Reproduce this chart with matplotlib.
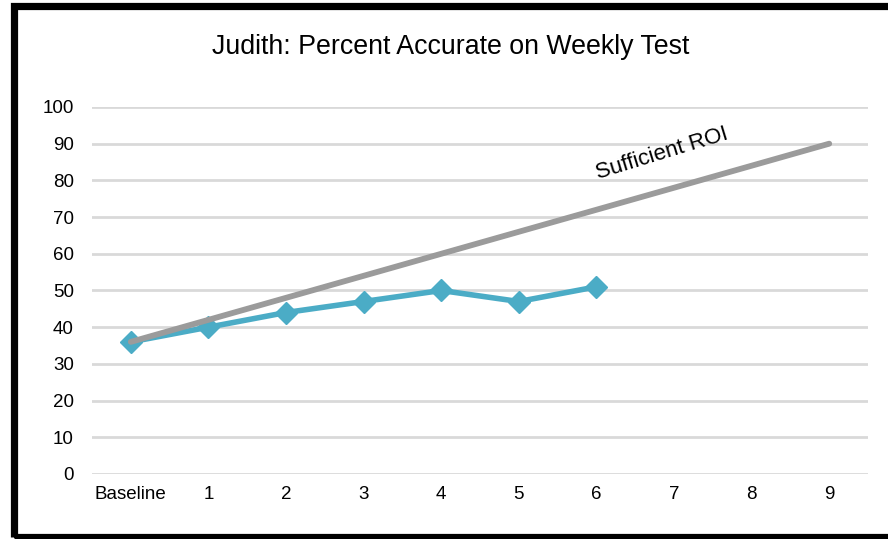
import matplotlib.pyplot as plt
from matplotlib.patches import Rectangle

plt.rcParams["font.family"] = ["Liberation Sans", "DejaVu Sans"]

categories = ["Baseline", "1", "2", "3", "4", "5", "6", "7", "8", "9"]
accuracy = [36, 40, 44, 47, 50, 47, 51]
roi_x = [0, 9]
roi_values = [36, 90]

fig = plt.figure(figsize=(8.88, 5.39), dpi=100)
ax = fig.add_axes([0.1036, 0.1206, 0.8739, 0.6809])

x = list(range(len(categories)))
ax.plot(x[:len(accuracy)], accuracy, color="#4BACC6", linewidth=4,
        marker="D", markersize=11, clip_on=False, zorder=3)
ax.plot(roi_x, roi_values, color="#9B9B9B", linewidth=4.2, solid_capstyle="round",
        clip_on=False, zorder=4)
ax.text(6.85, 87.3, "Sufficient ROI", rotation=17, fontsize=16,
        ha="center", va="center", color="black")

ax.set_xlim(-0.5, 9.5)
ax.set_ylim(0, 100)
ax.set_xticks(x)
ax.set_xticklabels(categories)
ax.set_yticks(range(0, 101, 10))
ax.tick_params(axis="both", length=0, labelsize=13.5, colors="black")
ax.tick_params(axis="y", pad=13)
ax.tick_params(axis="x", pad=9)
ax.grid(axis="y", color="#D9D9D9", linewidth=2)
ax.set_axisbelow(True)
for spine in ax.spines.values():
    spine.set_visible(False)

fig.text(0.507, 0.913, "Judith: Percent Accurate on Weekly Test",
         ha="center", va="center", fontsize=19.3, color="black")

# black frame around the chart (right edge runs off the image)
fig.add_artist(Rectangle((13.5 / 888, 2 / 539), 1.1, 531 / 539, transform=fig.transFigure,
                         fill=False, edgecolor="black", linewidth=5.2))

fig.savefig("out.png", dpi=100)
